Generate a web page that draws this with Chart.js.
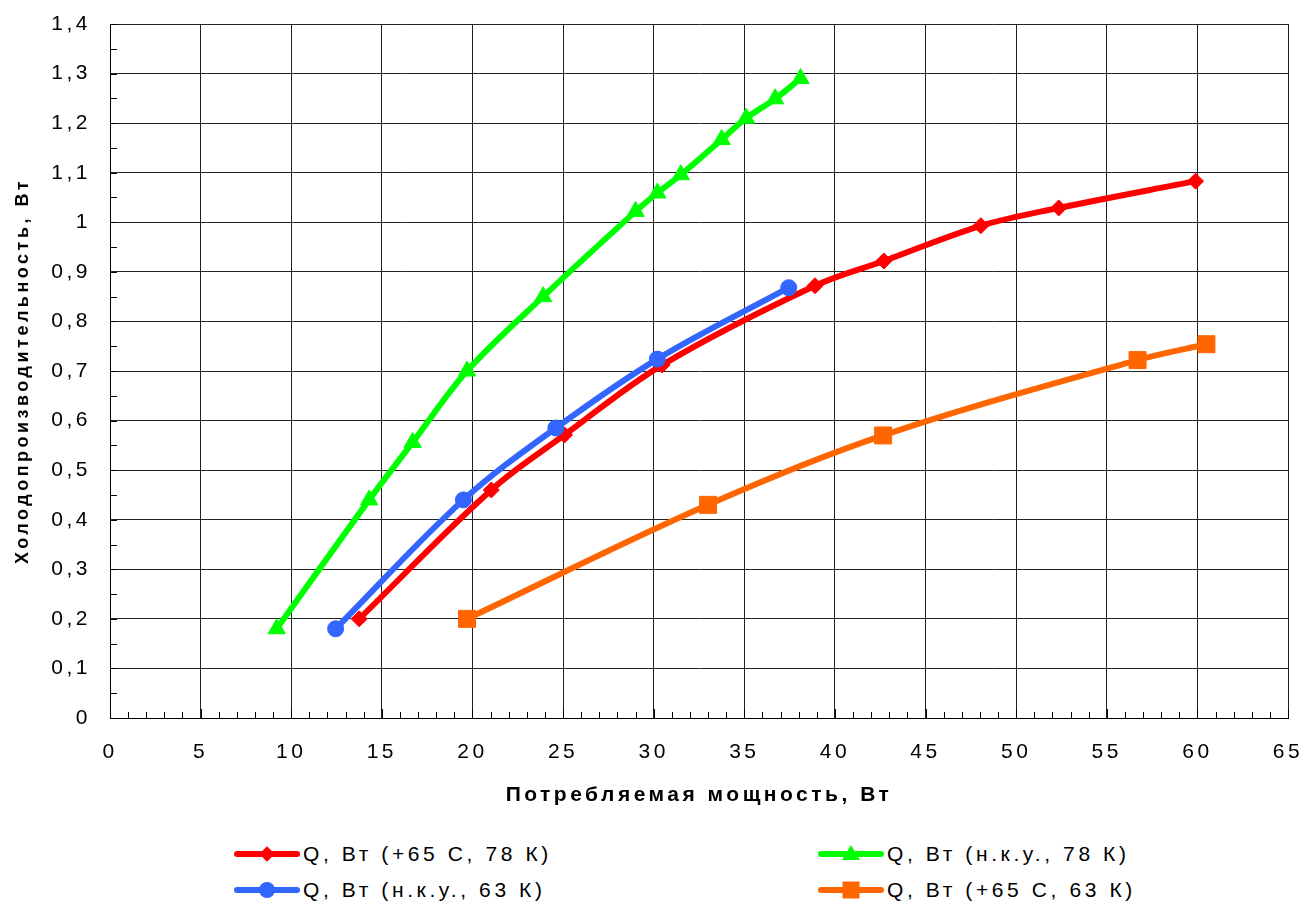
<!DOCTYPE html>
<html>
<head>
<meta charset="utf-8">
<script src="https://cdn.jsdelivr.net/npm/chart.js@4"></script>
<style>
  html, body { margin: 0; padding: 0; background: #fff; }
  #wrap { position: relative; width: 1306px; height: 906px; font-family: "Liberation Sans", Arial, sans-serif; }
  #chart { position: absolute; left: 0; top: 0; }
  .leg { position: absolute; display: flex; align-items: center; font-size: 21px; letter-spacing: 3.6px; color: #000; white-space: nowrap; }
  .leg .sample { position: relative; width: 66px; height: 20px; margin-right: 3px; }
  .leg .line { position: absolute; left: 0; right: 0; top: 7px; height: 6px; border-radius: 3px; }
  .leg .mk { position: absolute; left: 50%; top: 50%; }
</style>
</head>
<body>
<div id="wrap">
  <canvas id="chart" width="1306" height="822"></canvas>
  <div id="legend"></div>
</div>
<script>
// Q vs consumed power, four operating modes
const redX    = [13.75, 21.04, 25.08, 30.46, 38.9, 42.7, 48.05, 52.35, 59.9];
const redY    = [0.20, 0.46, 0.571, 0.712, 0.872, 0.922, 0.993, 1.029, 1.083];
const greenX  = [9.2, 14.3, 16.7, 19.7, 23.9, 29.0, 30.2, 31.5, 33.75, 35.1, 36.7, 38.1];
const greenY  = [0.18, 0.44, 0.556, 0.70, 0.85, 1.022, 1.059, 1.096, 1.167, 1.21, 1.249, 1.29];
const blueX   = [12.45, 19.5, 24.6, 30.2, 37.45];
const blueY   = [0.18, 0.44, 0.585, 0.724, 0.868];
const orangeX = [19.7, 33.0, 42.66, 56.7, 60.5];
const orangeY = [0.20, 0.43, 0.57, 0.722, 0.754];

const seriesNames = [
    'Q, Вт (+65 С, 78 К)',
    'Q, Вт (н.к.у., 78 К)',
    'Q, Вт (н.к.у., 63 К)',
    'Q, Вт (+65 С, 63 К)',
];
const xTickLabels = ['0', '5', '10', '15', '20', '25', '30', '35', '40', '45', '50', '55', '60', '65'];
const yTickLabels = ['0', '0,1', '0,2', '0,3', '0,4', '0,5', '0,6', '0,7', '0,8', '0,9', '1', '1,1', '1,2', '1,3', '1,4'];
const xTitle = 'Потребляемая мощность, Вт';
const yTitle = 'Холодопроизводительность, Вт';

const pts = (xs, ys) => xs.map((x, i) => ({ x, y: ys[i] }));

const styles = [
    { color: '#ff0000', point: 'rectRot',  radius: 8 },
    { color: '#00ff00', point: 'triangle', radius: 10 },
    { color: '#3366ff', point: 'circle',   radius: 8 },
    { color: '#ff6600', point: 'rect',     radius: 12 },
];
const seriesData = [pts(redX, redY), pts(greenX, greenY), pts(blueX, blueY), pts(orangeX, orangeY)];
// draw order: blue on top of red
const drawOrder = [2, 1, 0, 3];

const datasets = seriesData.map((data, i) => ({
    label: seriesNames[i],
    data,
    order: drawOrder[i],
    borderColor: styles[i].color,
    backgroundColor: styles[i].color,
    borderWidth: 6,
    pointStyle: styles[i].point,
    pointRadius: styles[i].radius,
    pointBorderWidth: 1,
    pointBorderColor: styles[i].color,
    pointBackgroundColor: styles[i].color,
    tension: 0.35,
    fill: false,
}));

// the original text is set with wide tracking
const spacing = {
    id: 'spacing',
    beforeLayout(chart) { chart.ctx.letterSpacing = '3.5px'; },
    beforeDraw(chart) { chart.ctx.letterSpacing = '3.5px'; },
};

// small inside ticks like the spreadsheet axes
const minorTicks = {
    id: 'minorTicks',
    beforeDatasetsDraw(chart) {
        const { ctx, scales: { x, y } } = chart;
        ctx.save();
        ctx.strokeStyle = '#000';
        ctx.lineWidth = 1;
        ctx.beginPath();
        for (let v = 0; v <= 65; v += 1) {
            const px = Math.round(x.getPixelForValue(v)) + 0.5;
            const len = v % 5 === 0 ? 9 : 6;
            ctx.moveTo(px, y.bottom);
            ctx.lineTo(px, y.bottom - len);
        }
        for (let k = 0; k <= 28; k++) {
            const py = Math.round(y.getPixelForValue(k * 0.05)) + 0.5;
            ctx.moveTo(x.left, py);
            ctx.lineTo(x.left + 7, py);
        }
        ctx.stroke();
        ctx.restore();
    },
};

const tickFont = { family: '"Liberation Sans", Arial, sans-serif', size: 21 };

new Chart(document.getElementById('chart'), {
    type: 'line',
    data: { datasets },
    plugins: [spacing, minorTicks],
    options: {
        responsive: false,
        animation: false,
        layout: { padding: { top: 24, right: 18, left: 0, bottom: 0 } },
        plugins: { legend: { display: false }, tooltip: { enabled: false } },
        scales: {
            x: {
                type: 'linear',
                min: 0,
                max: 65,
                ticks: {
                    stepSize: 5,
                    font: tickFont,
                    color: '#000',
                    padding: 22,
                    maxRotation: 0,
                    callback: (v) => xTickLabels[Math.round(v / 5)],
                },
                grid: { color: '#222', lineWidth: 1, drawTicks: false },
                border: { color: '#000', width: 1 },
                title: {
                    display: true, text: xTitle, color: '#000',
                    font: { family: '"Liberation Sans", Arial, sans-serif', size: 21, weight: 'bold' },
                    padding: { top: 0, bottom: 14 },
                },
                afterFit: (s) => { s.height = 104; s.paddingLeft = 0; s.paddingRight = 0; },
            },
            y: {
                type: 'linear',
                min: 0,
                max: 1.4,
                ticks: {
                    stepSize: 0.1,
                    font: tickFont,
                    color: '#000',
                    padding: 19,
                    callback: (v) => yTickLabels[Math.round(v * 10)],
                },
                grid: { color: '#222', lineWidth: 1, drawTicks: false },
                border: { color: '#000', width: 1 },
                title: {
                    display: true, text: yTitle, color: '#000',
                    font: { family: '"Liberation Sans", Arial, sans-serif', size: 18, weight: 'bold' },
                    padding: { top: 12, bottom: 0 },
                },
                afterFit: (s) => { s.width = 110; s.paddingTop = 0; s.paddingBottom = 0; },
            },
        },
    },
});

// two-column legend under the plot, same order as the original
const legendPos = [
    { left: 234, top: 842 },
    { left: 818, top: 842 },
    { left: 234, top: 878 },
    { left: 818, top: 878 },
];
const legend = document.getElementById('legend');
seriesNames.forEach((name, i) => {
    const st = styles[i];
    const item = document.createElement('div');
    item.className = 'leg';
    item.style.left = legendPos[i].left + 'px';
    item.style.top = legendPos[i].top + 'px';
    let mk;
    if (st.point === 'rectRot') {
        mk = `width:11px;height:11px;background:${st.color};transform:translate(-50%,-50%) rotate(45deg);`;
    } else if (st.point === 'triangle') {
        mk = `width:0;height:0;border-left:9px solid transparent;border-right:9px solid transparent;border-bottom:15px solid ${st.color};transform:translate(-50%,-60%);`;
    } else if (st.point === 'circle') {
        mk = `width:16px;height:16px;border-radius:50%;background:${st.color};transform:translate(-50%,-50%);`;
    } else {
        mk = `width:17px;height:17px;background:${st.color};transform:translate(-50%,-50%);`;
    }
    item.innerHTML = `<div class="sample"><div class="line" style="background:${st.color}"></div><div class="mk" style="${mk}"></div></div><span>${name}</span>`;
    legend.appendChild(item);
});
</script>
</body>
</html>
